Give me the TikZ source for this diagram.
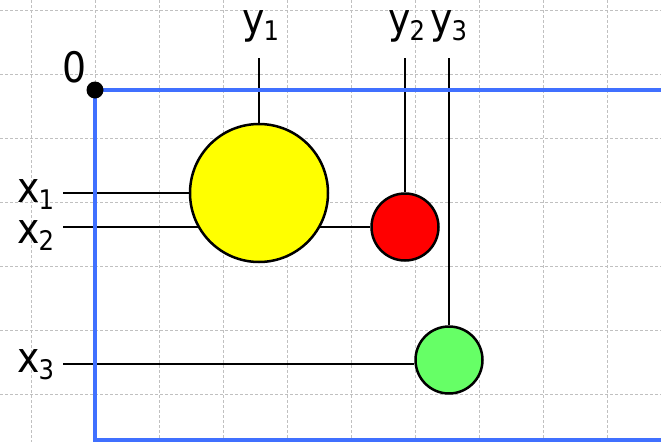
\documentclass[tikz,border=0pt]{standalone}
\usepackage{fontspec}
\setmainfont{DejaVu Sans Condensed}
\usepackage{tikz}
\usetikzlibrary{positioning}
\definecolor{gridgray}{RGB}{192,192,192}
\definecolor{frameblue}{RGB}{64,112,255}
\definecolor{cellyellow}{RGB}{255,255,0}
\definecolor{cellred}{RGB}{255,0,0}
\definecolor{cellgreen}{RGB}{102,255,102}
\newcommand{\lowidx}[1]{\kern-1pt\raisebox{-7pt}{\fontsize{27}{27}\selectfont #1}}
\pgfdeclarelayer{gridlayer}
\pgfdeclarelayer{wirelayer}
\pgfsetlayers{gridlayer,wirelayer,main}
\tikzset{
  gridline/.style={draw=gridgray, dash pattern=on 3pt off 2pt, line width=0.8pt},
  frame/.style={draw=frameblue, line width=4pt},
  wire/.style={draw=black, line width=1.8pt},
  cell/.style={circle, draw=black, line width=2.5pt, inner sep=0pt},
  origin/.style={circle, fill=black, minimum size=17pt, inner sep=0pt},
  lbl/.style={font=\fontsize{42}{46}\selectfont, inner sep=0pt}
}

\begin{document}
\begin{tikzpicture}[x=1pt, y=-1pt]
  \useasboundingbox (0,0) rectangle (661,442);
  \clip (0,0) rectangle (661,442);

  % grid
  \begin{pgfonlayer}{gridlayer}
    \foreach \gx in {31,95,...,607}
      \draw[gridline] (\gx,0) -- (\gx,442);
    \foreach \gy in {10,74,...,394}
      \draw[gridline] (0,\gy) -- (661,\gy);
  \end{pgfonlayer}

  % frame and origin
  \draw[frame] (95,90) rectangle (680,440);
  \node[origin] (o) at (95,90) {};
  \node[lbl, anchor=base west] (lo) at (62,82) {0};

  % cells
  \node[cell, fill=cellyellow, minimum size=138pt] (c1) at (259,193) {};
  \node[cell, fill=cellred, minimum size=67pt] (c2) at (405,227) {};
  \node[cell, fill=cellgreen, minimum size=67pt] (c3) at (449,360) {};

  % wire ends
  \coordinate (x1) at (63,193);
  \coordinate (x2) at (63,227);
  \coordinate (x3) at (63,364);
  \coordinate (y1) at (259,58);
  \coordinate (y2) at (405,58);
  \coordinate (y3) at (449,58);

  % wires
  \begin{pgfonlayer}{wirelayer}
    \draw[wire] (x1) -- (c1.west);
    \draw[wire] (x2) -- (c2.west);
    \draw[wire] (x3) -- (x3 -| c3.west);
    \draw[wire] (y1) -- (c1.north);
    \draw[wire] (y2) -- (c2.north);
    \draw[wire] (y3) -- (c3.north);
  \end{pgfonlayer}

  % labels
  \node[lbl, anchor=base west] (lx1) at (17,202) {x\lowidx{1}};
  \node[lbl, anchor=base west] (lx2) at (17,243) {x\lowidx{2}};
  \node[lbl, anchor=base west] (lx3) at (17,372) {x\lowidx{3}};
  \node[lbl, anchor=base west] (ly1) at (242,33) {y\lowidx{1}};
  \node[lbl, anchor=base west] (ly2) at (388,33) {y\lowidx{2}};
  \node[lbl, anchor=base west] (ly3) at (430,33) {y\lowidx{3}};
\end{tikzpicture}
\end{document}
